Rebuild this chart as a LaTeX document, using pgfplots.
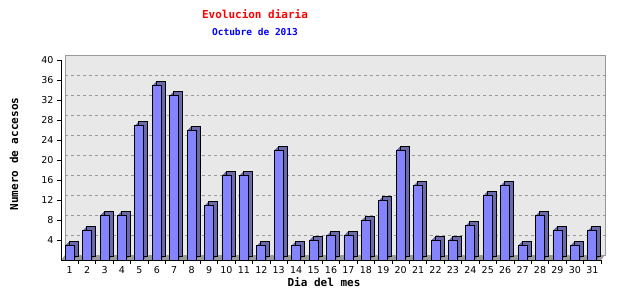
\documentclass[border=0pt]{standalone}
\usepackage{fontspec}
\usepackage{pgfplots}
\pgfplotsset{compat=1.18}
\usepackage{pgfplotstable}
\setmainfont{DejaVu Sans}
\newfontfamily\mono{DejaVu Sans Mono}
\definecolor{barfront}{HTML}{8484FF}
\definecolor{barside}{HTML}{6A6AAA}
\definecolor{wall}{HTML}{E8E8E8}
\definecolor{floorc}{HTML}{9C9C9C}
\definecolor{gridc}{HTML}{999999}
\pgfplotstableread{
d v
1 3
2 6
3 9
4 9
5 27
6 35
7 33
8 26
9 11
10 17
11 17
12 3
13 22
14 3
15 4
16 5
17 5
18 8
19 12
20 22
21 15
22 4
23 4
24 7
25 13
26 15
27 3
28 9
29 6
30 3
31 6
}\data
\begin{document}
\begin{tikzpicture}
\useasboundingbox (0,0) rectangle (640bp,300bp);
% back wall
\begin{axis}[at={(65bp,45bp)}, anchor=south west, scale only axis,
  width=540bp, height=200bp, xmin=0.5, xmax=31.5, ymin=0, ymax=40,
  axis background/.style={fill=wall},
  axis line style={draw=gridc, line width=0.8bp},
  xtick=\empty, ytick={4,8,...,36}, yticklabels={},
  tick style={draw=none},
  ymajorgrids, major grid style={dashed, gridc, line width=0.8bp}]
\end{axis}
% front
\begin{axis}[at={(61bp,40bp)}, anchor=south west, scale only axis,
  width=540bp, height=200bp, xmin=0.5, xmax=31.5, ymin=0, ymax=40,
  axis lines*=left, axis line style={black, line width=0.8bp},
  axis on top,
  xtick={1,...,31}, minor xtick={1.5,...,31.5},
  major x tick style={draw=none},
  minor x tick style={black, line width=0.8bp},
  minor tick length=4bp,
  ytick={4,8,...,40}, major tick length=4bp,
  tick align=outside,
  y tick style={black, line width=0.8bp},
  tick label style={font=\fontsize{9.5bp}{10bp}\selectfont},
  /pgf/number format/assume math mode=true,
  xticklabel style={yshift=1bp},
  clip=false]
\addplot[fill=floorc, draw=none, forget plot] coordinates {(0.5,0) (0.73,1) (31.73,1) (31.5,0)} -- cycle;
\addplot[ybar, bar width=9bp, fill=barside, draw=none, xshift=1bp, yshift=1bp] table[x=d,y=v]{\data};
\addplot[ybar, bar width=9bp, fill=barside, draw=none, xshift=2bp, yshift=2bp] table[x=d,y=v]{\data};
\addplot[ybar, bar width=9bp, fill=barside, draw=none, xshift=3bp, yshift=3bp] table[x=d,y=v]{\data};
\addplot[ybar, bar width=9bp, fill=barside, draw=black, line width=0.8bp, xshift=4bp, yshift=4bp] table[x=d,y=v]{\data};
\addplot[ybar, bar width=9bp, fill=barfront, draw=black, line width=0.8bp] table[x=d,y=v]{\data};
\end{axis}
\node[text=red, font=\mono\bfseries\fontsize{11bp}{12bp}\selectfont] at (255bp,286bp) {Evolucion diaria};
\node[text=blue, font=\mono\bfseries\fontsize{9.5bp}{11bp}\selectfont] at (255bp,268bp) {Octubre de 2013};
\node[rotate=90, font=\mono\bfseries\fontsize{11bp}{12bp}\selectfont] at (14bp,146bp) {Numero de accesos};
\node[font=\mono\bfseries\fontsize{11bp}{12bp}\selectfont] at (324bp,18bp) {Dia del mes};
\end{tikzpicture}
\end{document}
